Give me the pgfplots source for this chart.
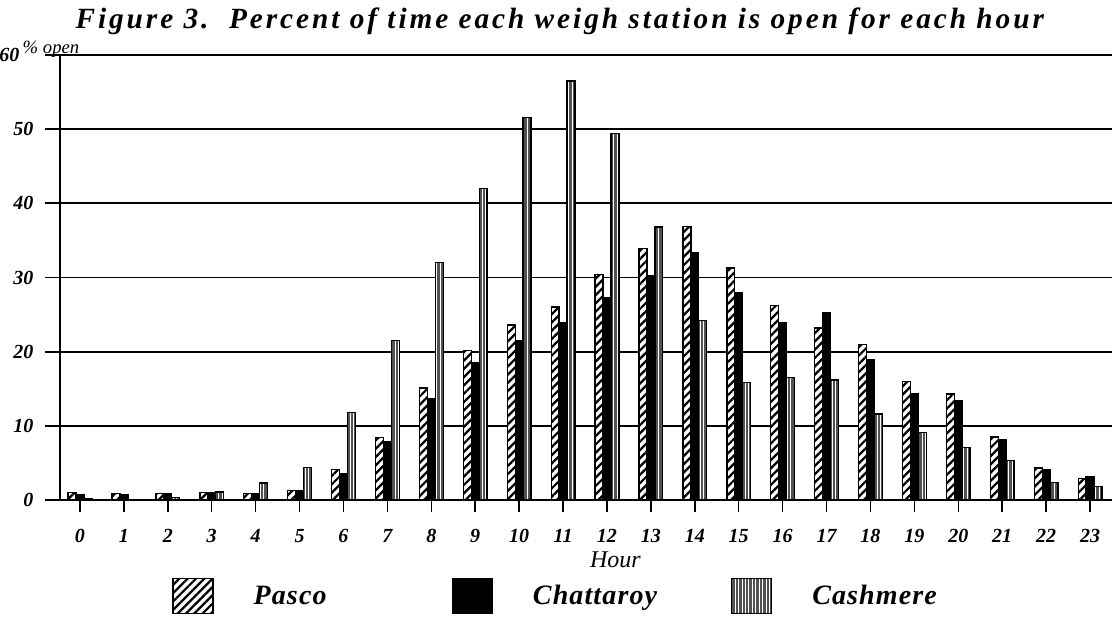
\documentclass[border=0pt]{standalone}
\usepackage{pgfplots}
\pgfplotsset{compat=1.18}
\usepackage{pgfplotstable}
\usetikzlibrary{patterns.meta}
\usepackage{fontspec}
\setmainfont{Liberation Serif}
\newfontfamily\titlefont[LetterSpace=10]{Liberation Serif}
\newfontfamily\legfont[LetterSpace=4]{Liberation Serif}

\pgfplotstableread{
h P C K
0 1.0 0.7 0.2
1 0.9 0.7 0.1
2 0.9 0.8 0.3
3 1.0 1.0 1.1
4 0.9 0.9 2.3
5 1.3 1.2 4.4
6 4.1 3.5 11.8
7 8.4 7.8 21.5
8 15.1 13.6 32.0
9 20.2 18.5 42.0
10 23.6 21.5 51.6
11 26.0 23.9 56.5
12 30.4 27.3 49.4
13 33.9 30.3 36.8
14 36.9 33.3 24.2
15 31.3 27.9 15.8
16 26.2 23.9 16.5
17 23.2 25.3 16.2
18 21.0 18.9 11.6
19 16.0 14.4 9.1
20 14.3 13.4 7.1
21 8.5 8.2 5.3
22 4.3 4.1 2.4
23 2.9 3.1 1.8
}\data

\begin{document}
\begin{tikzpicture}
\begin{axis}[
  scale only axis, width=789pt, height=333.75pt,
  xmin=-0.455, xmax=23.5, ymin=0, ymax=60,
  axis x line*=bottom, axis y line*=left,
  axis line style={line width=1.3pt, black},
  xtick={0,...,23}, ytick={0,10,...,50},
  extra y ticks={60},
  extra y tick style={grid=major, yticklabel style={xshift=-10.5pt}},
  ymajorgrids, grid style={line width=1.3pt, black},
  tick align=outside,
  xtick style={line width=1.1pt, black, /pgfplots/major tick length=9pt},
  ytick style={line width=1.3pt, black, /pgfplots/major tick length=11pt},
  ticklabel style={font=\fontsize{15}{15}\selectfont\bfseries\itshape},
  xticklabel style={anchor=center, inner sep=0pt, yshift=-22.5pt},
  yticklabel style={anchor=east, inner sep=0pt, xshift=-15.5pt},
  /pgf/number format/assume math mode=true,
  ybar=0pt, bar width=0.18,
  clip=false,
  legend columns=3,
  legend style={at={(axis description cs:0.1065,-0.2157)}, anchor=west,
    draw=none, fill=none, inner sep=0pt,
    font=\legfont\fontsize{21}{21}\selectfont\bfseries\itshape,
    nodes={inner sep=0pt},
    /tikz/every odd column/.style={column sep=30pt}},
  legend image code/.code={\draw[#1] (0pt,-13pt) rectangle (30pt,13pt);},
]
\addplot[draw=black, line width=1pt, fill=white,
  postaction={pattern={Lines[angle=45,distance=4.4pt,line width=1.7pt]}, pattern color=black}]
  table[x=h,y=P] {\data};
\addlegendentry{\makebox[148.5pt][l]{Pasco}}
\addplot[draw=black, line width=1pt, fill=black] table[x=h,y=C] {\data};
\addlegendentry{\makebox[148.5pt][l]{Chattaroy}}
\addplot[draw=black, line width=1pt, fill=black!68,
  postaction={pattern={Lines[angle=90,distance=2.6pt,line width=0.55pt]}, pattern color=white}]
  table[x=h,y=K] {\data};
\addlegendentry{Cashmere}

\node[anchor=base, yshift=20pt, font=\titlefont\fontsize{22}{22}\selectfont\bfseries\itshape]
  at (axis description cs:0.475,1) {Figure 3.\ \ Percent of time each weigh station is open for each hour};
\node[anchor=base west, xshift=-31.5pt, yshift=1pt, font=\fontsize{14}{14}\selectfont\itshape]
  at (axis description cs:0,1) {\% open};
\node[anchor=center, yshift=-45pt, font=\fontsize{18}{18}\selectfont\itshape]
  at (axis description cs:0.528,0) {Hour};
\end{axis}
\path (current axis.south west) ++(-45pt,-87.75pt) coordinate (bbA);
\path (current axis.north east) ++(0pt,41.25pt) coordinate (bbB);
\pgfresetboundingbox
\path[use as bounding box] (bbA) rectangle (bbB);
\end{tikzpicture}
\end{document}
